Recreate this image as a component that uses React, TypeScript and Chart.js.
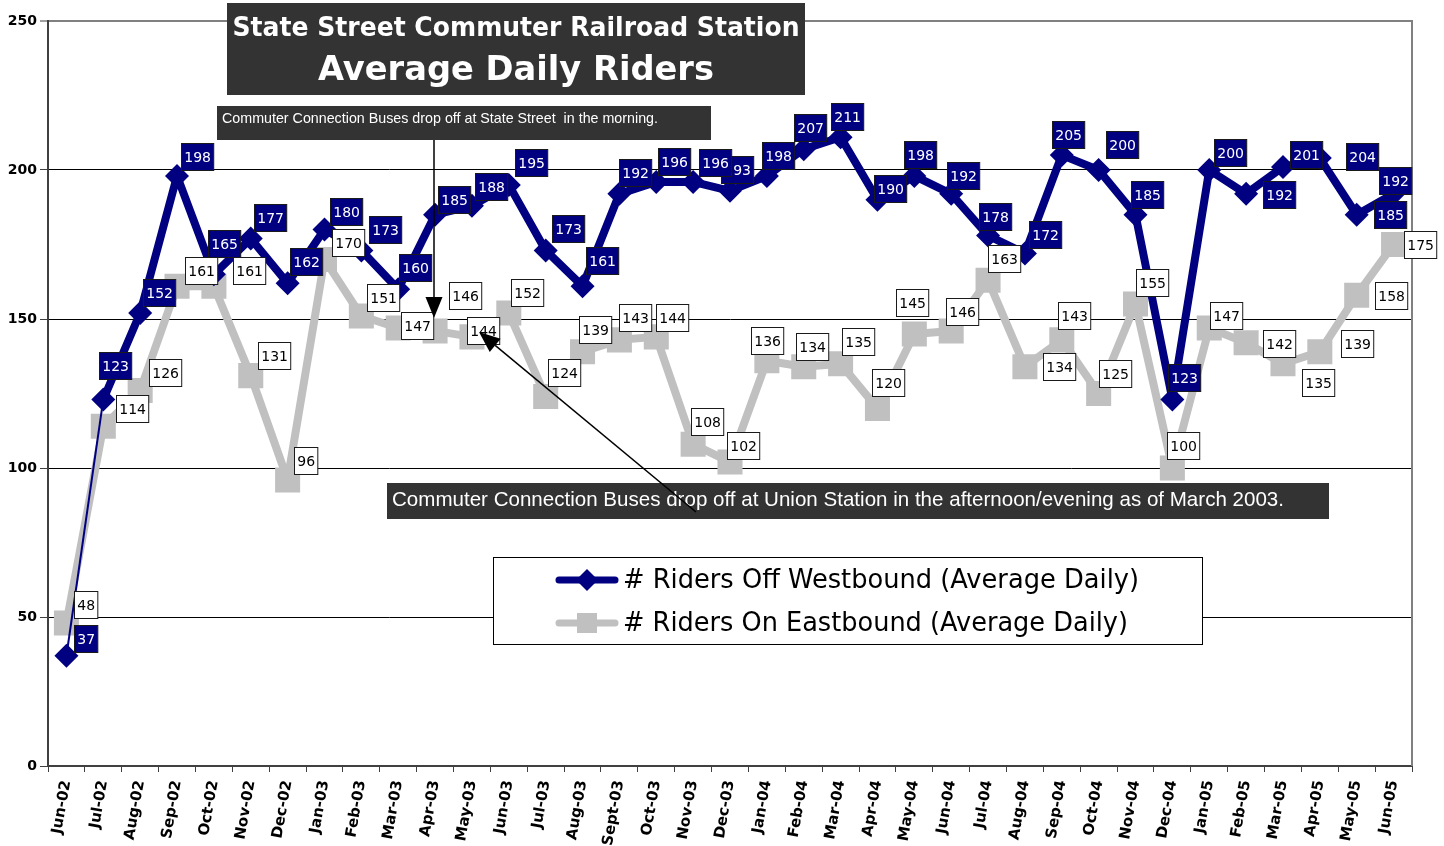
import React, { useEffect, useRef } from 'react';
import { Chart, registerables } from 'chart.js';

Chart.register(...registerables);

const months = [
  'Jun-02', 'Jul-02', 'Aug-02', 'Sep-02', 'Oct-02', 'Nov-02', 'Dec-02',
  'Jan-03', 'Feb-03', 'Mar-03', 'Apr-03', 'May-03', 'Jun-03', 'Jul-03', 'Aug-03', 'Sept-03', 'Oct-03', 'Nov-03', 'Dec-03',
  'Jan-04', 'Feb-04', 'Mar-04', 'Apr-04', 'May-04', 'Jun-04', 'Jul-04', 'Aug-04', 'Sep-04', 'Oct-04', 'Nov-04', 'Dec-04',
  'Jan-05', 'Feb-05', 'Mar-05', 'Apr-05', 'May-05', 'Jun-05',
];

const westbound = [
  37, 123, 152, 198, 165, 177, 162,
  180, 173, 160, 185, 188, 195, 173, 161, 192, 196, 196, 193,
  198, 207, 211, 190, 198, 192, 178, 172, 205, 200, 185, 123,
  200, 192, 201, 204, 185, 192,
];

const eastbound = [
  48, 114, 126, 161, 161, 131, 96,
  170, 151, 147, 146, 144, 152, 124, 139, 143, 144, 108, 102,
  136, 134, 135, 120, 145, 146, 163, 134, 143, 125, 155, 100,
  147, 142, 135, 139, 158, 175,
];

const westLabel = '# Riders Off Westbound (Average Daily)';
const eastLabel = '# Riders On Eastbound (Average Daily)';
const titleLine1 = 'State Street Commuter Railroad Station';
const titleLine2 = 'Average Daily Riders';
const noteMorning = 'Commuter Connection Buses drop off at State Street  in the morning.';
const noteEvening = 'Commuter Connection Buses drop off at Union Station in the afternoon/evening as of March 2003.';

// data-label nudges relative to each point (pixels)
const westDx = [19.5, 11.5, 18.5, 20, 10, 19, 18.5, 22, 24, 17, 19.5, 19.5, 22, 22, 20, 16, 18, 22, 7, 11, 6, 6.5, 13, 6, 12, 7, 20, 6, 23, 11.5, 12, 20.5, 33.5, 23, 42, 33.5, 1.5];
const westDy = [-17, -33.5, -21, -19, -31, -21, -22, -18.5, -21, -21.5, -15, -19, -22, -22, -26, -21, -20, -19, -21, -20.5, -21.5, -21, -11, -21, -18, -19, -19, -20.5, -25, -20.5, -22, -17, 0.5, -13, -2, 0, -13];
const eastDx = [19.5, 28.5, 25, 24, 35.5, 23.5, 18.5, 23.5, 22, 19, 30, 11, 18.5, 18, 12.5, 16, 16, 14, 13, 0, 8.5, 17.5, 11, -2.5, 11, 16, 34, 12.5, 16, 16.5, 11, 16.5, 33.5, 35, 37.5, 34.5, 27];
const eastDy = [-18.5, -18, -18.5, -16, -16, -20.5, -19, -16.5, -19, -2.5, -35, -6, -20.5, -23.5, -22, -22, -19, -23, -17, -20.7, -20.5, -22, -25.5, -31, -19, -21.6, 0, -24, -20.5, -22, -23, -12, 1, 19, -8, 0, 0];

const NAVY = '#000080';
const GRAY = '#C0C0C0';
const DARK = '#333333';

function drawLabelBox(ctx: CanvasRenderingContext2D, cx: number, cy: number, text: string, fill: string, color: string) {
  const w = ctx.measureText(text).width + 5.5;
  const h = 27;
  const x = Math.round(cx - w / 2) + 0.5;
  const y = Math.round(cy - h / 2) + 0.5;
  ctx.fillStyle = fill;
  ctx.fillRect(x, y, w, h);
  ctx.strokeStyle = '#1a1a1a';
  ctx.lineWidth = 1;
  ctx.strokeRect(x, y, w, h);
  ctx.fillStyle = color;
  ctx.textAlign = 'center';
  ctx.textBaseline = 'middle';
  ctx.fillText(text, x + w / 2, y + h / 2 + 1);
}

function drawArrow(ctx: CanvasRenderingContext2D, x1: number, y1: number, x2: number, y2: number) {
  const ang = Math.atan2(y2 - y1, x2 - x1);
  const headLen = 21;
  const headHalf = 8.5;
  const bx = x2 - headLen * Math.cos(ang);
  const by = y2 - headLen * Math.sin(ang);
  ctx.strokeStyle = '#000';
  ctx.lineWidth = 1.5;
  ctx.beginPath();
  ctx.moveTo(x1, y1);
  ctx.lineTo(bx, by);
  ctx.stroke();
  ctx.fillStyle = '#000';
  ctx.beginPath();
  ctx.moveTo(x2, y2);
  ctx.lineTo(bx + headHalf * Math.sin(ang), by - headHalf * Math.cos(ang));
  ctx.lineTo(bx - headHalf * Math.sin(ang), by + headHalf * Math.cos(ang));
  ctx.closePath();
  ctx.fill();
}

const decorPlugin = {
  id: 'decor',
  beforeDatasetsDraw(chart: any) {
    const { ctx, chartArea } = chart;
    ctx.save();
    ctx.strokeStyle = '#808080';
    ctx.lineWidth = 2;
    ctx.beginPath();
    ctx.moveTo(chartArea.right, chartArea.top - 1);
    ctx.lineTo(chartArea.right, chartArea.bottom);
    ctx.stroke();
    ctx.restore();
  },
  afterDatasetsDraw(chart: any) {
    const { ctx } = chart;
    ctx.save();
    ctx.font = '14px "DejaVu Sans"';
    const metaE = chart.getDatasetMeta(1);
    metaE.data.forEach((pt: any, i: number) => {
      drawLabelBox(ctx, pt.x + eastDx[i], pt.y + eastDy[i], String(eastbound[i]), '#ffffff', '#000000');
    });
    const metaW = chart.getDatasetMeta(0);
    for (let i = metaW.data.length - 1; i >= 0; i--) {
      const pt = metaW.data[i];
      drawLabelBox(ctx, pt.x + westDx[i], pt.y + westDy[i], String(westbound[i]), NAVY, '#ffffff');
    }

    // legend
    ctx.fillStyle = '#ffffff';
    ctx.fillRect(493.5, 557.5, 709, 87);
    ctx.strokeStyle = '#000';
    ctx.lineWidth = 1;
    ctx.strokeRect(493.5, 557.5, 709, 87);
    ctx.lineCap = 'round';
    ctx.lineWidth = 7;
    ctx.strokeStyle = NAVY;
    ctx.beginPath();
    ctx.moveTo(559, 580);
    ctx.lineTo(615, 580);
    ctx.stroke();
    ctx.fillStyle = NAVY;
    ctx.beginPath();
    ctx.moveTo(587, 569);
    ctx.lineTo(598, 580);
    ctx.lineTo(587, 591);
    ctx.lineTo(576, 580);
    ctx.closePath();
    ctx.fill();
    ctx.strokeStyle = GRAY;
    ctx.beginPath();
    ctx.moveTo(559, 623);
    ctx.lineTo(615, 623);
    ctx.stroke();
    ctx.fillStyle = GRAY;
    ctx.fillRect(577, 613, 20, 20);
    ctx.lineCap = 'butt';
    ctx.fillStyle = '#000';
    ctx.font = '26px "DejaVu Sans"';
    ctx.textAlign = 'left';
    ctx.textBaseline = 'middle';
    ctx.fillText(westLabel, 623, 581, 516);
    ctx.fillText(eastLabel, 623, 624, 505);

    // title block
    ctx.fillStyle = DARK;
    ctx.fillRect(227, 3, 578, 92);
    ctx.fillStyle = '#ffffff';
    ctx.textAlign = 'center';
    ctx.textBaseline = 'alphabetic';
    ctx.font = 'bold 26px "DejaVu Sans"';
    ctx.fillText(titleLine1, 516, 36, 567);
    ctx.font = 'bold 34px "DejaVu Sans"';
    ctx.fillText(titleLine2, 516, 80, 396);

    // notes
    ctx.fillStyle = DARK;
    ctx.fillRect(217, 106, 494, 34);
    ctx.fillStyle = '#ffffff';
    ctx.textAlign = 'left';
    ctx.font = '14.3px "Liberation Sans"';
    ctx.fillText(noteMorning, 222, 123, 436);

    ctx.fillStyle = DARK;
    ctx.fillRect(387, 483, 942, 36);
    ctx.fillStyle = '#ffffff';
    ctx.font = '20.6px "Liberation Sans"';
    ctx.fillText(noteEvening, 392, 506, 892);

    drawArrow(ctx, 434, 140, 434, 318);
    drawArrow(ctx, 696, 512, 479, 332);
    ctx.restore();
  },
};

export default function App() {
  const canvasRef = useRef<HTMLCanvasElement | null>(null);

  useEffect(() => {
    if (!canvasRef.current) return;
    const chart = new Chart(canvasRef.current, {
      type: 'line',
      data: {
        labels: months,
        datasets: [
          {
            label: westLabel,
            data: westbound,
            borderColor: NAVY,
            backgroundColor: NAVY,
            borderWidth: 8,
            borderJoinStyle: 'bevel',
            pointStyle: 'rectRot',
            pointRadius: 12,
            pointBorderWidth: 0,
            pointBackgroundColor: NAVY,
            tension: 0,
            segment: {
              borderWidth: (c: any) => (c.p0DataIndex === 0 ? 2 : 8),
            },
          },
          {
            label: eastLabel,
            data: eastbound,
            borderColor: GRAY,
            backgroundColor: GRAY,
            borderWidth: 8,
            borderJoinStyle: 'bevel',
            pointStyle: 'rect',
            pointRadius: 17.7,
            pointBorderWidth: 0,
            pointBackgroundColor: GRAY,
            tension: 0,
          },
        ],
      },
      options: {
        responsive: false,
        animation: false,
        devicePixelRatio: 1,
        events: [],
        layout: { padding: { top: 21, right: 32, left: 0, bottom: 0 } },
        plugins: {
          legend: { display: false },
          title: { display: false },
          tooltip: { enabled: false },
        },
        scales: {
          x: {
            type: 'category',
            offset: true,
            afterFit: (s: any) => { s.height = 80; },
            grid: {
              display: true,
              offset: true,
              drawOnChartArea: false,
              drawTicks: true,
              tickLength: 6,
              tickColor: '#404040',
              tickWidth: 1,
            },
            border: { display: true, color: '#404040', width: 2 },
            ticks: {
              autoSkip: false,
              minRotation: 80,
              maxRotation: 80,
              padding: 7,
              color: '#000',
              font: { family: '"DejaVu Sans"', size: 15, weight: 'bold' },
            },
          },
          y: {
            min: 0,
            max: 250,
            afterFit: (s: any) => { s.width = 48; },
            grid: {
              color: (c: any) => (c.tick && c.tick.value === 250 ? '#808080' : c.tick && c.tick.value === 0 ? 'rgba(0,0,0,0)' : '#000'),
              lineWidth: (c: any) => (c.tick && c.tick.value === 250 ? 2 : 1),
              tickColor: '#404040',
              tickLength: 8,
              tickWidth: 1,
            },
            border: { display: true, color: '#404040', width: 2 },
            ticks: {
              stepSize: 50,
              padding: 3,
              color: '#000',
              font: { family: '"DejaVu Sans"', size: 14, weight: 'bold' },
            },
          },
        },
      },
      plugins: [decorPlugin],
    } as any);
    return () => chart.destroy();
  }, []);

  return (
    <div style={{ position: 'fixed', left: 0, top: 0, width: 1444, height: 846, background: '#ffffff' }}>
      <canvas ref={canvasRef} width={1444} height={846} style={{ display: 'block', width: 1444, height: 846 }} />
    </div>
  );
}
